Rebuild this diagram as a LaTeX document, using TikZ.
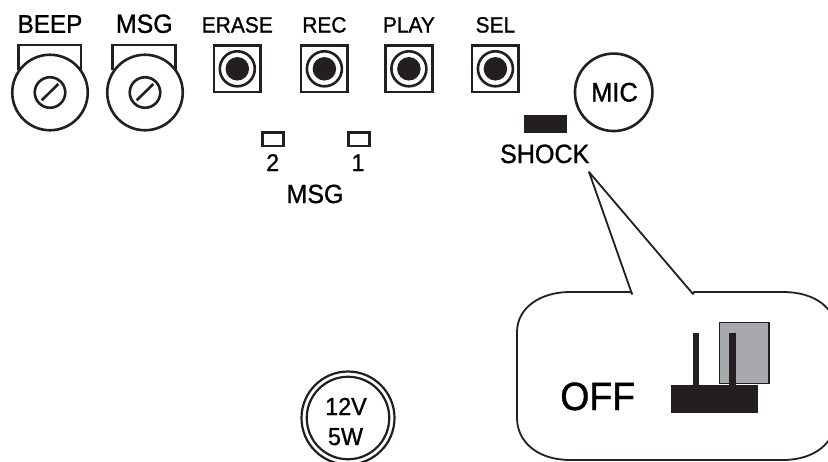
\documentclass[tikz,border=0pt]{standalone}
\usepackage{fontspec}
\setmainfont{Liberation Sans}[FakeStretch=0.95,RawFeature={embolden=1.0}]
\definecolor{ink}{HTML}{231F20}
\definecolor{capgray}{HTML}{A7A9AC}
\newcommand{\fsz}[1]{\fontsize{\fpeval{#1*1.05}pt}{30pt}\selectfont}
\tikzset{
  lbl/.style={anchor=base,inner sep=0pt,outer sep=0pt,text=black},
  ring/.style={circle,draw=ink,line width=2.6pt,inner sep=0pt,minimum size=#1},
  thinring/.style={circle,draw=ink,line width=2.2pt,inner sep=0pt,minimum size=#1},
  fillring/.style={circle,draw=ink,fill=white,line width=2.6pt,inner sep=0pt,minimum size=#1},
  disc/.style={circle,fill=ink,inner sep=0pt,minimum size=#1},
  btnbox/.style={rectangle,draw=ink,line width=2.6pt,inner sep=0pt,minimum width=46.6pt,minimum height=46.2pt},
  ledbox/.style={rectangle,draw=ink,line width=2.6pt,inner sep=0pt,minimum width=21pt,minimum height=13.7pt},
  solid box/.style={rectangle,fill=ink,inner sep=0pt},
}
\begin{document}
\begin{tikzpicture}[x=1pt,y=-1pt]
\clip (0,0) rectangle (828,461);
\fill[white] (0,0) rectangle (828,461);
% knobs
\draw[ink,line width=2.6pt] (18.2,70) -- (18.2,45) -- (81,45) -- (81,70);
\draw[ink,line width=2.6pt] (112.7,70) -- (112.7,45) -- (175.5,45) -- (175.5,70);
\node[fillring=75.5pt] (k1) at (50,92.5) {};
\node[ring=30.5pt] (k1i) at (50,92.5) {};
\coordinate (k1a) at (41.7,100.3);
\coordinate (k1b) at (58.3,84);
\draw[ink,line width=2.6pt] (k1a) -- (k1b);
\node[fillring=75.5pt] (k2) at (145,92.5) {};
\node[ring=30.5pt] (k2i) at (145,92.5) {};
\coordinate (k2a) at (136.7,100.3);
\coordinate (k2b) at (153.3,84);
\draw[ink,line width=2.6pt] (k2a) -- (k2b);
\node[lbl] (tbeep) at (50,32.8) {\fsz{24.3}BEEP};
\node[lbl] (tmsg) at (144.3,32.8) {\fsz{25}MSG};
% buttons
\foreach \n/\x/\t in {a/237.3/ERASE,b/324.4/REC,c/408.9/PLAY,d/495.4/SEL}{
  \node[btnbox] (b\n) at (\x,68.8) {};
  \node[ring=35pt] (r\n) at (\x,68.8) {};
  \node[disc=23.5pt] (d\n) at (\x,68.8) {};
  \node[lbl] (t\n) at (\x,32.5) {\fsz{21}\t};
}
% mic
\node[ring=77.5pt] (mic) at (613.7,92.3) {};
\node[lbl] (tmic) at (614.5,101.5) {\fsz{25.5}MIC};
% shock
\node[solid box,minimum width=43pt,minimum height=18.3pt] (shock) at (545.8,124.2) {};
\node[lbl] (tshock) at (544.7,163) {\fsz{25.2}SHOCK};
% LEDs
\node[ledbox] (l2) at (273.2,139.2) {};
\node[ledbox] (l1) at (358.7,139.2) {};
\node[lbl] (t2) at (272.7,171) {\fsz{23}2};
\node[lbl] (t1) at (358,171) {\fsz{23}1};
\node[lbl] (tm) at (315,203) {\fsz{25}MSG};
% callout
\coordinate (tip) at (589,172);
\coordinate (cl) at (632,294);
\coordinate (cr) at (693,294);
\draw[ink,line width=1.8pt,line join=round] (cl) -- (tip) -- (cr);
\draw[ink,line width=1.8pt,line cap=round]
  (cl) -- (631,292) -- (570,292)
  .. controls (540,292) and (517,308) .. (517,332)
  -- (517,418)
  .. controls (517,442) and (538,460) .. (570,460)
  -- (783,460)
  .. controls (815,460) and (836,442) .. (836,418)
  -- (836,332)
  .. controls (836,308) and (815,292) .. (783,292)
  -- (694,292) -- (cr);
\node[lbl] (toff) at (597.7,410) {\fsz{37.5}OFF};
% switch
\node[solid box,minimum width=87pt,minimum height=27.7pt] (base) at (714.8,398.9) {};
\node[rectangle,draw=ink,fill=capgray,line width=1.3pt,inner sep=0pt,minimum width=49.7pt,minimum height=60.6pt] (cap) at (744.2,353) {};
\node[solid box,minimum width=6.7pt,minimum height=52.5pt] (p1) at (696,359) {};
\node[solid box,minimum width=6.7pt,minimum height=52.5pt] (p2) at (732.7,359) {};
% lamp
\node[thinring=93pt] (lo) at (348,418) {};
\node[thinring=82.5pt] (li) at (348,418) {};
\node[lbl] (t12) at (346,415) {\fsz{23.4}12V};
\node[lbl] (t5) at (345.5,445) {\fsz{23.4}5W};
\end{tikzpicture}
\end{document}
